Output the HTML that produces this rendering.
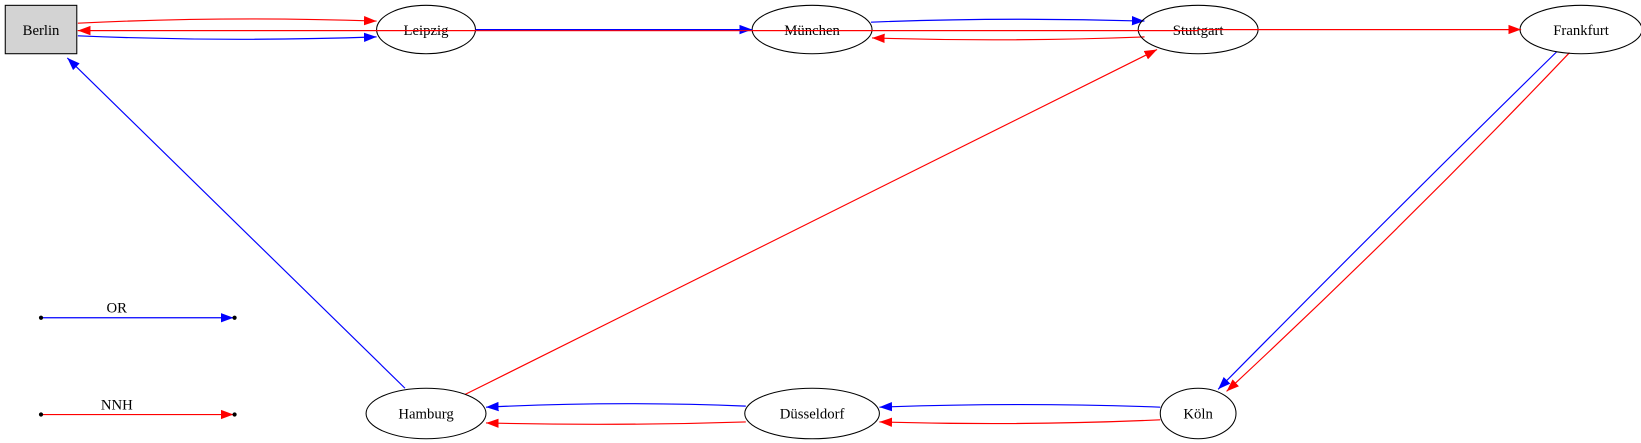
<!DOCTYPE html>
<html><head><meta charset="utf-8"><style>
html,body{margin:0;padding:0;background:#fff;}
svg{display:block;}
text{font-family:"Liberation Serif",serif;font-size:14px;fill:#000;}
</style></head><body>
<svg id="g" width="1641" height="443" viewBox="0 0 1560 421" xmlns="http://www.w3.org/2000/svg">
<defs>
<marker id="ab" viewBox="0 0 10 10" refX="10" refY="5" markerWidth="12" markerHeight="12" markerUnits="userSpaceOnUse" orient="auto"><path d="M0,1.3L10,5L0,8.7z" fill="#00f"/></marker>
<marker id="ar" viewBox="0 0 10 10" refX="10" refY="5" markerWidth="12" markerHeight="12" markerUnits="userSpaceOnUse" orient="auto"><path d="M0,1.3L10,5L0,8.7z" fill="#f00"/></marker>
</defs>
</svg>
<script>
const nodeNames=["Berlin","Leipzig","München","Stuttgart","Frankfurt","Hamburg","Düsseldorf","Köln"];
const nodeX=[39,405,772,1139,1503,405,772,1139];
const nodeY=[28,28,28,28,28,393,393,393];
const nodeRx=[34,47,57,57,58,57,64,36];
const edgePaths=[
 ["M74,22 Q216,15 358,20","r","berlin-to-leipzig-nnh"],
 ["M74,34 Q216,40 358,35","b","berlin-to-leipzig-or"],
 ["M1139,29 L74,29","r","stuttgart-to-berlin-nnh"],
 ["M452,28 L715,28","b","leipzig-to-muenchen-or"],
 ["M828,21 Q958,16 1088,20","b","muenchen-to-stuttgart-or"],
 ["M1088,35 Q958,40 829,36","r","stuttgart-to-muenchen-nnh"],
 ["M1139,28 L1446,28","r","stuttgart-to-frankfurt-nnh"],
 ["M1480,49 Q1318,208 1158,370","b","frankfurt-to-koeln-or"],
 ["M1492,50 Q1335,215 1166,372","r","frankfurt-to-koeln-nnh"],
 ["M1103,387 Q970,382 836,387","b","koeln-to-duesseldorf-or"],
 ["M1103,399 Q970,405 836,401","r","koeln-to-duesseldorf-nnh"],
 ["M709,386 Q586,381 462,387","b","duesseldorf-to-hamburg-or"],
 ["M709,401 Q586,405 462,402","r","duesseldorf-to-hamburg-nnh"],
 ["M385,369 L64,55","b","hamburg-to-berlin-or"],
 ["M442,375 L1100,47","r","hamburg-to-stuttgart-nnh"],
 ["M39,302 L222,302","b","legend-or-line"],
 ["M39,394 L222,394","r","legend-nnh-line"]
];
const legendLabels=["OR","NNH"];
const legendY=[302,394];
const g=document.getElementById('g');
const NS="http://www.w3.org/2000/svg";
function mk(t,a){const e=document.createElementNS(NS,t);for(const k in a)e.setAttribute(k,a[k]);g.appendChild(e);return e;}
edgePaths.forEach(p=>{
 const c=p[1]==='b'?'#00f':'#f00';
 const e=mk('path',{d:p[0],stroke:c,'stroke-width':1.1,fill:'none','marker-end':'url(#a'+p[1]+')'});
 
 
});
nodeNames.forEach((n,i)=>{
 let s;
 if(i===0){s=mk('rect',{x:5,y:5,width:68,height:46,fill:'#d3d3d3',stroke:'#000','stroke-width':1});}
 else{s=mk('ellipse',{cx:nodeX[i],cy:nodeY[i],rx:nodeRx[i],ry:i>=5?24:23,fill:'none',stroke:'#000','stroke-width':1});}
 
 
 const t=mk('text',{x:nodeX[i],y:nodeY[i]+5,'text-anchor':'middle'});
 t.textContent=n;
 
 
});
edgePaths.filter(p=>p[2]==='stuttgart-to-berlin-nnh'||p[2]==='leipzig-to-muenchen-or'||p[2]==='stuttgart-to-frankfurt-nnh').forEach(p=>{
 const c=p[1]==='b'?'#00f':'#f00';
 const e=mk('path',{d:p[0],stroke:c,'stroke-width':1.1,fill:'none'});
 
 
});
legendLabels.forEach((l,i)=>{
 const t=mk('text',{x:111,y:legendY[i]-5,'text-anchor':'middle'});
 t.textContent=l;
 
 
 [39,223].forEach(x=>{
  const d=mk('circle',{cx:x,cy:legendY[i],r:2,fill:'#000'});
  
  
 });
});
</script>
</body></html>
